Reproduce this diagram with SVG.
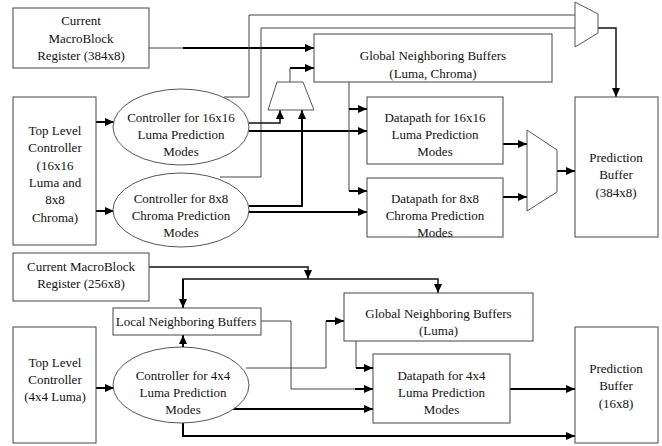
<svg xmlns="http://www.w3.org/2000/svg" width="662" height="446" viewBox="0 0 662 446" font-family="'Liberation Serif', 'Times New Roman', 'DejaVu Serif', serif" font-size="13">
<defs>
<marker id="ah" markerWidth="9" markerHeight="8" refX="9" refY="4" orient="auto" markerUnits="userSpaceOnUse">
<path d="M0,0 L9,4 L0,8 Z" fill="#000"/>
</marker>
<style>
.box{fill:#fff;stroke:#444;stroke-width:1}
.ell{fill:#fff;stroke:#555;stroke-width:1}
.mux{fill:#fff;stroke:#555;stroke-width:1}
text{fill:#111;text-anchor:middle}
.thin{fill:none;stroke:#444;stroke-width:1}
.med{fill:none;stroke:#111;stroke-width:1.5}
.thick{fill:none;stroke:#000;stroke-width:2}
</style>
</defs>
<rect width="662" height="446" fill="#fff"/>

<g id="connectors">
<polyline class="thin" points="149,48 183,48"/>
<polyline class="thick" points="183,48 314,48" marker-end="url(#ah)"/>
<polyline class="thin" points="224,97 249,97 249,15 575,15"/>
<polyline class="thin" points="220,177 261,177 261,28 575,28"/>
<polyline class="thin" points="290,82 290,68"/>
<polyline class="thick" points="290,68 314,68" marker-end="url(#ah)"/>
<polyline class="med" points="249,123 280,123 280,110" marker-end="url(#ah)"/>
<polyline class="thick" points="249,206 302,206 302,110" marker-end="url(#ah)"/>
<polyline class="thick" points="249,131 367,131" marker-end="url(#ah)"/>
<polyline class="thick" points="249,212 367,212" marker-end="url(#ah)"/>
<polyline class="thin" points="349,82 349,191"/>
<polyline class="thick" points="349,109 367,109" marker-end="url(#ah)"/>
<polyline class="thick" points="349,191 367,191" marker-end="url(#ah)"/>
<polyline class="thick" points="503,144 527,144" marker-end="url(#ah)"/>
<polyline class="thick" points="503,197 527,197" marker-end="url(#ah)"/>
<polyline class="thick" points="557,171 575,171" marker-end="url(#ah)"/>
<polyline class="med" points="598,28 616,28 616,97" marker-end="url(#ah)"/>
<polyline class="thick" points="96,122 114,122" marker-end="url(#ah)"/>
<polyline class="thick" points="96,211 114,211" marker-end="url(#ah)"/>
<polyline class="med" points="149,267 308,267 308,279" marker-end="url(#ah)"/>
<polyline class="med" points="183,300 183,279 438,279 438,293" marker-end="url(#ah)"/>
<polyline class="thick" points="183,279 183,308" marker-end="url(#ah)"/>
<polyline class="thick" points="183,348 183,335" marker-end="url(#ah)"/>
<polyline class="thick" points="96,388 114,388" marker-end="url(#ah)"/>
<polyline class="thin" points="246,368 326,368 326,321"/>
<polyline class="thick" points="326,321 344,321" marker-end="url(#ah)"/>
<polyline class="thin" points="261,321 291,321 291,389 355,389"/>
<polyline class="thick" points="355,389 373,389" marker-end="url(#ah)"/>
<polyline class="thin" points="356,341 356,368"/>
<polyline class="thick" points="356,368 373,368" marker-end="url(#ah)"/>
<polyline class="thick" points="232,409 373,409" marker-end="url(#ah)"/>
<polyline class="thick" points="183,423 183,436 575,436" marker-end="url(#ah)"/>
<polyline class="thick" points="510,389 575,389" marker-end="url(#ah)"/>
</g>

<g id="cmb384"><rect class="box" x="13" y="8" width="136" height="60"/>
<text x="81" y="25">Current</text><text x="81" y="42.5">MacroBlock</text><text x="81" y="60">Register (384x8)</text></g>

<g id="tlc16"><rect class="box" x="13" y="97" width="83" height="148"/>
<text x="55" y="134.5">Top Level</text><text x="55" y="152">Controller</text><text x="55" y="169.5">(16x16</text><text x="55" y="187">Luma and</text><text x="55" y="204">8x8</text><text x="55" y="221.5">Chroma)</text></g>

<g id="ctrl16"><ellipse class="ell" cx="181" cy="127" rx="68" ry="38"/>
<text x="181" y="121.5">Controller for 16x16</text><text x="181" y="138.5">Luma Prediction</text><text x="181" y="155.5">Modes</text></g>

<g id="ctrl8"><ellipse class="ell" cx="181" cy="210" rx="68" ry="37"/>
<text x="181" y="202.5">Controller for 8x8</text><text x="181" y="219.5">Chroma Prediction</text><text x="181" y="236.5">Modes</text></g>

<g id="gnb"><rect class="box" x="314" y="34" width="238" height="48"/>
<text x="433" y="59.5">Global Neighboring Buffers</text><text x="433" y="77.5">(Luma, Chroma)</text></g>

<g id="mux-small"><polygon class="mux" points="277,82 303,82 314,110 268,110"/></g>

<g id="dp16"><rect class="box" x="367" y="97" width="136" height="67"/>
<text x="435" y="121.5">Datapath for 16x16</text><text x="435" y="138.5">Luma Prediction</text><text x="435" y="155.5">Modes</text></g>

<g id="dp8"><rect class="box" x="367" y="178" width="136" height="59"/>
<text x="435" y="202.5">Datapath for 8x8</text><text x="435" y="219.5">Chroma Prediction</text><text x="435" y="236.5">Modes</text></g>

<g id="mux-dp"><polygon class="mux" points="527,130 557,150 557,192 527,211"/></g>

<g id="mux-top"><polygon class="mux" points="575,2 598,14 598,33 575,47"/></g>

<g id="pb384"><rect class="box" x="575" y="97" width="83" height="140"/>
<text x="616" y="161.5">Prediction</text><text x="616" y="178.5">Buffer</text><text x="616" y="196.5">(384x8)</text></g>

<g id="cmb256"><rect class="box" x="13" y="253" width="136" height="48"/>
<text x="81" y="270.5">Current MacroBlock</text><text x="81" y="287.5">Register (256x8)</text></g>

<g id="lnb"><rect class="box" x="113" y="308" width="148" height="27"/>
<text x="186" y="325.5">Local Neighboring Buffers</text></g>

<g id="tlc4"><rect class="box" x="13" y="327" width="83" height="116"/>
<text x="55" y="366.5">Top Level</text><text x="55" y="383.5">Controller</text><text x="55" y="401">(4x4 Luma)</text></g>

<g id="ctrl4"><ellipse class="ell" cx="181" cy="385" rx="68" ry="38"/>
<text x="183" y="379.5">Controller for 4x4</text><text x="183" y="396.5">Luma Prediction</text><text x="183" y="414">Modes</text></g>

<g id="gnbl"><rect class="box" x="344" y="293" width="189" height="48"/>
<text x="438.5" y="317.5">Global Neighboring Buffers</text><text x="438.5" y="335">(Luma)</text></g>

<g id="dp4"><rect class="box" x="373" y="354" width="137" height="69"/>
<text x="441.5" y="379.5">Datapath for 4x4</text><text x="441.5" y="396.5">Luma Prediction</text><text x="441.5" y="414">Modes</text></g>

<g id="pb16"><rect class="box" x="575" y="327" width="83" height="116"/>
<text x="616" y="372.5">Prediction</text><text x="616" y="390">Buffer</text><text x="616" y="407.5">(16x8)</text></g>
</svg>
